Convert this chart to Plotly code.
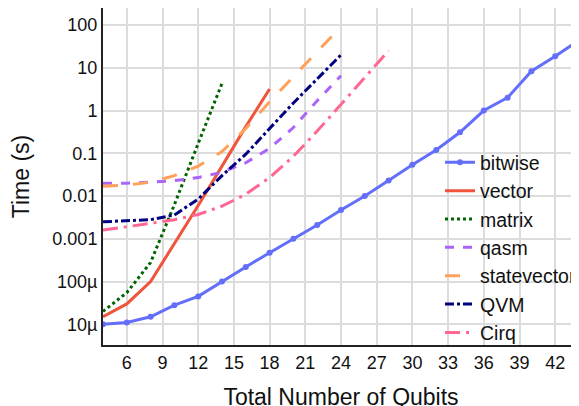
import plotly.graph_objects as go

# ---- data ----
bitwise_x = [4, 6, 8, 10, 12, 14, 16, 18, 20, 22, 24, 26, 28, 30, 32, 34, 36, 38, 40, 42, 44]
bitwise_y = [1e-5, 1.1e-5, 1.5e-5, 2.8e-5, 4.5e-5, 1e-4, 2.2e-4, 4.7e-4, 1e-3, 2.1e-3, 4.7e-3,
             1e-2, 2.3e-2, 5.4e-2, 0.12, 0.31, 1.0, 2.0, 8.3, 18.6, 44]

vector_x = [4, 6, 8, 10, 12, 14, 16, 18]
vector_y = [1.5e-5, 3e-5, 1e-4, 7.5e-4, 6e-3, 0.05, 0.42, 3.2]

matrix_x = [4, 6, 8, 10, 12, 14]
matrix_y = [2e-5, 5.5e-5, 2.8e-4, 6.3e-3, 0.17, 4.3]

qasm_x = [4, 6, 8, 10, 12, 14, 16, 18, 20, 22, 24]
qasm_y = [0.02, 0.02, 0.021, 0.023, 0.027, 0.036, 0.06, 0.13, 0.4, 1.7, 6.5]

statevector_x = [4, 6, 8, 10, 12, 14, 16, 18, 20, 22, 24]
statevector_y = [0.017, 0.018, 0.021, 0.03, 0.05, 0.11, 0.38, 1.6, 6.2, 24, 91]

qvm_x = [4, 6, 8, 10, 12, 14, 16, 18, 20, 22, 24]
qvm_y = [0.0025, 0.0026, 0.0028, 0.0036, 0.0085, 0.03, 0.095, 0.38, 1.5, 5.5, 20]

cirq_x = [4, 6, 8, 10, 12, 14, 16, 18, 20, 22, 24, 26, 28]
cirq_y = [0.0016, 0.0019, 0.0023, 0.0028, 0.0037, 0.0058, 0.011, 0.027, 0.085, 0.33, 1.4, 6, 25]

x_ticks = [6, 9, 12, 15, 18, 21, 24, 27, 30, 33, 36, 39, 42]
y_ticks = [1e-5, 1e-4, 1e-3, 1e-2, 1e-1, 1, 10, 100]
y_ticktext = ["10µ", "100µ", "0.001", "0.01", "0.1", "1", "10", "100"]

FONT = "Liberation Sans, Arial, sans-serif"

fig = go.Figure()
fig.add_trace(go.Scatter(x=bitwise_x, y=bitwise_y, name="bitwise", mode="lines+markers",
                         line=dict(color="#636efa", width=3), marker=dict(size=6)))
fig.add_trace(go.Scatter(x=vector_x, y=vector_y, name="vector", mode="lines",
                         line=dict(color="#ef553b", width=3)))
fig.add_trace(go.Scatter(x=matrix_x, y=matrix_y, name="matrix", mode="lines",
                         line=dict(color="#006400", width=3, dash="dot")))
fig.add_trace(go.Scatter(x=qasm_x, y=qasm_y, name="qasm", mode="lines",
                         line=dict(color="#ab63fa", width=3, dash="dash")))
fig.add_trace(go.Scatter(x=statevector_x, y=statevector_y, name="statevector", mode="lines",
                         line=dict(color="#ffa15a", width=3, dash="longdash")))
fig.add_trace(go.Scatter(x=qvm_x, y=qvm_y, name="QVM", mode="lines",
                         line=dict(color="#000080", width=3, dash="dashdot")))
fig.add_trace(go.Scatter(x=cirq_x, y=cirq_y, name="Cirq", mode="lines",
                         line=dict(color="#ff6692", width=3, dash="longdashdot")))

fig.update_layout(
    width=579, height=406,
    margin=dict(l=95, r=8, t=0, b=69),
    paper_bgcolor="white", plot_bgcolor="white",
    font=dict(family=FONT, size=18, color="#111"),
    legend=dict(x=0.708, xanchor="left", y=0.599, yanchor="top",
                bgcolor="rgba(0,0,0,0)", borderwidth=0,
                font=dict(family=FONT, size=19.5, color="#111")),
    xaxis=dict(range=[4, 44], tickvals=x_ticks, showgrid=True, gridcolor="#dcdcdc", gridwidth=1.5,
               showline=True, linecolor="#222", linewidth=2, mirror=True, zeroline=False,
               ticks="", automargin=False,
               title=dict(text="Total Number of Qubits", font=dict(size=23, family=FONT, color="#111"),
                          standoff=17)),
    yaxis=dict(type="log", range=[-5.484, 2.398], tickvals=y_ticks, ticktext=y_ticktext,
               showgrid=True, gridcolor="#dcdcdc", gridwidth=1.5,
               showline=True, linecolor="#222", linewidth=2, mirror=False, zeroline=False,
               ticks="", automargin=False,
               title=dict(text="Time (s)", font=dict(size=23, family=FONT, color="#111"),
                          standoff=18)),
)

fig.write_html("out.html")
